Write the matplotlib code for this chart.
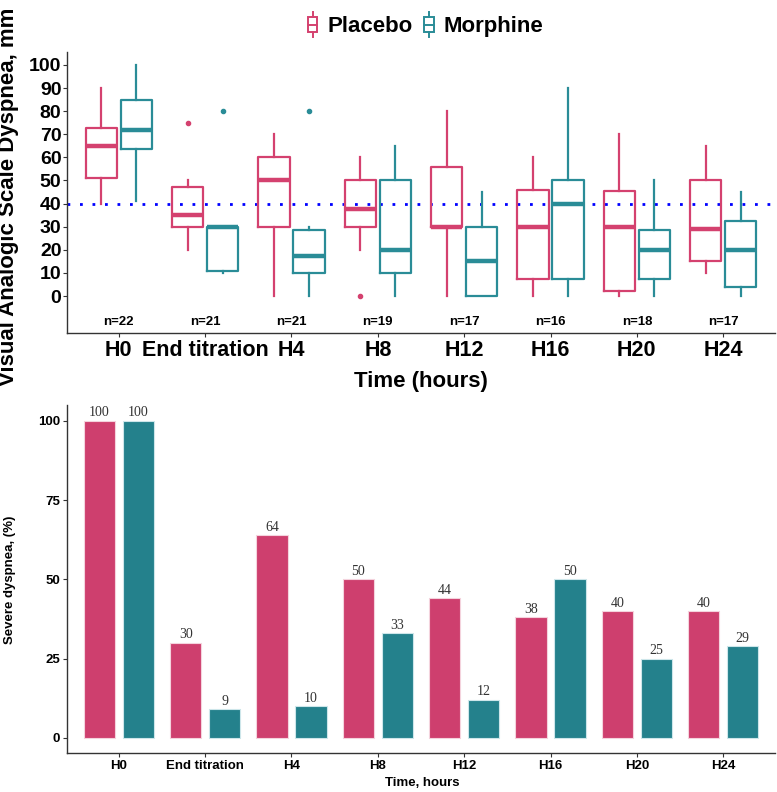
import matplotlib
matplotlib.use("Agg")
import matplotlib.pyplot as plt
from matplotlib.lines import Line2D
from matplotlib.patches import Rectangle
from matplotlib.legend_handler import HandlerBase
import numpy as np

plt.rcParams['font.family'] = ['Liberation Sans', 'DejaVu Sans']

# ---- data -------------------------------------------------------------
times = ["H0", "End titration", "H4", "H8", "H12", "H16", "H20", "H24"]
n_patients = [22, 21, 21, 19, 17, 16, 18, 17]

# box stats: whisker low, q1, median, q3, whisker high
plac_lo = [40, 20, 0, 20, 0, 0, 0, 10]
plac_q1 = [51, 30, 30, 30, 30, 7.5, 2, 15]
plac_med = [65, 35, 50, 37.5, 30, 30, 30, 29]
plac_q3 = [72.5, 47, 60, 50, 56, 46, 45.5, 50]
plac_hi = [90, 50, 70, 60, 80, 60, 70, 65]
plac_out = [[], [75], [], [0], [], [], [], []]

morph_lo = [41, 10, 0, 0, 0, 0, 0, 0]
morph_q1 = [63.5, 11, 10, 10, 0, 7.5, 7.5, 4]
morph_med = [72, 30, 17.5, 20, 15, 40, 20, 20]
morph_q3 = [85, 30, 28.5, 50, 30, 50, 28.5, 32.5]
morph_hi = [100, 30, 30, 65, 45, 90, 50, 45]
morph_out = [[], [80], [80], [], [], [], [], []]

threshold = 40

# severe dyspnea (%)
plac_severe = [100, 30, 64, 50, 44, 38, 40, 40]
morph_severe = [100, 9, 10, 33, 12, 50, 25, 29]

pink = "#D4416F"
teal = "#2A8C97"
pink_bar = "#CE3F6E"
teal_bar = "#24818C"
axcol = "#333333"


class BoxHandler(HandlerBase):
    # tiny vertical boxplot glyph for the legend
    def create_artists(self, legend, orig_handle, xdescent, ydescent,
                       width, height, fontsize, trans):
        c = orig_handle.get_color()
        cx = width / 2. - xdescent
        bw = width * 0.8
        bh = height * 0.75
        y0 = -ydescent + (height - bh) / 2.
        box = Rectangle((cx - bw / 2., y0), bw, bh, fill=False,
                        edgecolor=c, lw=1.4, transform=trans)
        med = Line2D([cx - bw / 2., cx + bw / 2.], [y0 + bh / 2.] * 2,
                     color=c, lw=1.4, transform=trans)
        wt = Line2D([cx, cx], [y0 + bh, y0 + bh + height * 0.25],
                    color=c, lw=1.4, transform=trans)
        wb = Line2D([cx, cx], [y0, y0 - height * 0.25],
                    color=c, lw=1.4, transform=trans)
        return [box, med, wt, wb]


def style_axes(ax):
    for s in ["top", "right"]:
        ax.spines[s].set_visible(False)
    for s in ["left", "bottom"]:
        ax.spines[s].set_color(axcol)
        ax.spines[s].set_linewidth(1.0)
    ax.tick_params(colors=axcol, length=3, width=0.8)


fig = plt.figure(figsize=(7.77, 7.92), dpi=100)

# ---- top panel: boxplots ---------------------------------------------
ax1 = fig.add_axes([67 / 777., 1 - 333 / 792., 708 / 777., 281 / 792.])
style_axes(ax1)
x = np.arange(1, len(times) + 1)
off = 0.2025
wid = 0.36

for lo, q1, med, q3, hi, out, sgn, col in [
        (plac_lo, plac_q1, plac_med, plac_q3, plac_hi, plac_out, -1, pink),
        (morph_lo, morph_q1, morph_med, morph_q3, morph_hi, morph_out, 1, teal)]:
    stats = [dict(whislo=lo[i], q1=q1[i], med=med[i], q3=q3[i],
                  whishi=hi[i], fliers=out[i]) for i in range(len(times))]
    ax1.bxp(stats, positions=x + sgn * off, widths=wid, showcaps=False,
            boxprops=dict(color=col, lw=1.6),
            whiskerprops=dict(color=col, lw=1.6),
            medianprops=dict(color=col, lw=3.2, solid_capstyle="butt"),
            flierprops=dict(marker="o", markerfacecolor=col,
                            markeredgecolor=col, markersize=3),
            manage_ticks=False)

ax1.axhline(threshold, color="#0000FF", lw=2, ls=(0, (1, 3.5)), zorder=1)

for xi, n in zip(x, n_patients):
    ax1.text(xi, -11.3, "n=%d" % n, ha="center", va="center",
             fontsize=9.5, fontweight="bold")

ax1.set_xlim(0.4, 8.6)
ax1.set_ylim(-16, 105.6)
ax1.set_yticks(np.arange(0, 101, 10))
ax1.set_xticks(x)
ax1.set_xticklabels(times)
ax1.tick_params(axis="y", labelsize=14, pad=1)
ax1.tick_params(axis="x", labelsize=15.5, pad=2)
for lab in ax1.get_xticklabels() + ax1.get_yticklabels():
    lab.set_fontweight("bold")
    lab.set_color("black")

fig.text(9 / 777., 1 - 386 / 792., "Visual Analogic Scale Dyspnea, mm",
         rotation=90, ha="center", va="bottom", fontsize=16,
         fontweight="bold")
fig.text(421 / 777., 1 - 381 / 792., "Time (hours)", ha="center",
         va="center", fontsize=16, fontweight="bold")

handles = [Line2D([], [], color=pink), Line2D([], [], color=teal)]
fig.legend(handles, ["Placebo", "Morphine"], loc="center",
           bbox_to_anchor=(425 / 777., 1 - 26 / 792.), ncol=2,
           frameon=False, handler_map={Line2D: BoxHandler()},
           handlelength=0.55, handleheight=1.0, handletextpad=0.4,
           columnspacing=0.45, prop=dict(size=16, weight="bold"))

# ---- bottom panel: bars ----------------------------------------------
ax2 = fig.add_axes([67 / 777., 1 - 753 / 792., 708 / 777., 348 / 792.])
style_axes(ax2)
boff = 0.226
bwid = 0.36
b1 = ax2.bar(x - boff, plac_severe, bwid, color=pink_bar,
             edgecolor="#F4D3DD", lw=0.8)
b2 = ax2.bar(x + boff, morph_severe, bwid, color=teal_bar,
             edgecolor="#CDE6EA", lw=0.8)
for bars in (b1, b2):
    ax2.bar_label(bars, padding=1, fontsize=10, color="#333333",
                  family=["Liberation Serif", "DejaVu Serif"])

ax2.set_xlim(0.4, 8.6)
ax2.set_ylim(-4.75, 105)
ax2.set_yticks([0, 25, 50, 75, 100])
ax2.set_xticks(x)
ax2.set_xticklabels(times)
ax2.tick_params(axis="both", labelsize=9.5, pad=2)
for lab in ax2.get_xticklabels() + ax2.get_yticklabels():
    lab.set_fontweight("bold")
    lab.set_color("black")

fig.text(10 / 777., 1 - 580 / 792., "Severe dyspnea, (%)", rotation=90,
         ha="center", va="center", fontsize=9.5, fontweight="bold")
fig.text(422 / 777., 1 - 783 / 792., "Time, hours", ha="center",
         va="center", fontsize=9.5, fontweight="bold")

fig.savefig("out.png", dpi=100)
